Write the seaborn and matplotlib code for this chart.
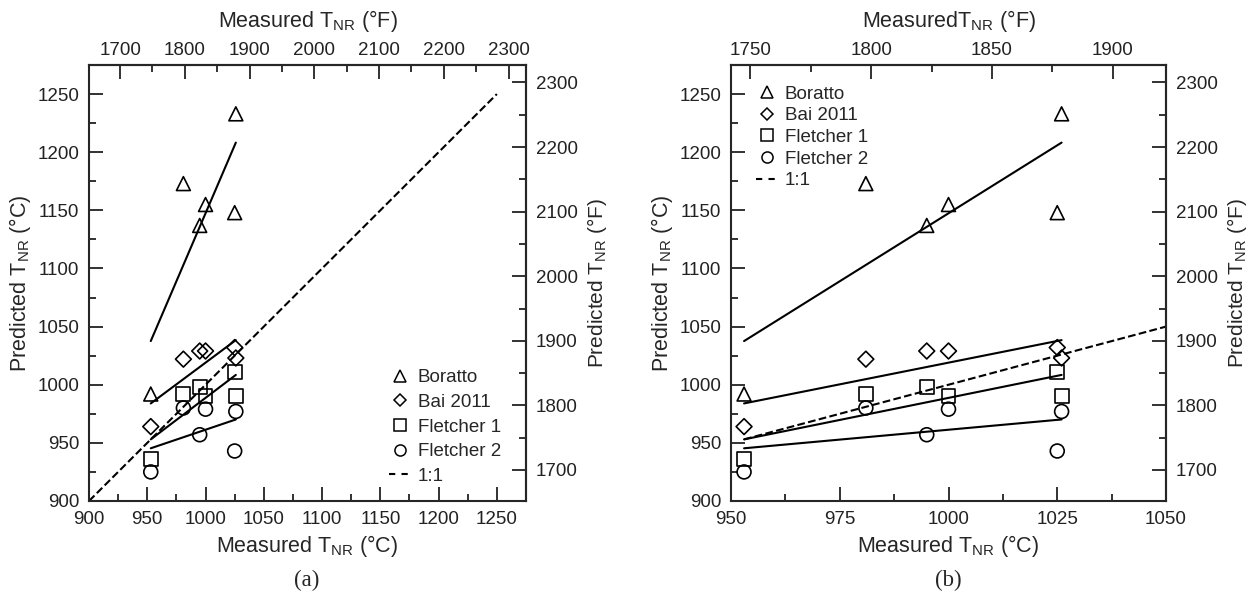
import pandas as pd
import matplotlib
matplotlib.use('Agg')
import matplotlib.pyplot as plt
from matplotlib.lines import Line2D
from matplotlib.ticker import MultipleLocator, FixedLocator
import seaborn as sns

# Datos (°C)
medido = [953, 981, 995, 1000, 1025, 1026]
boratto = [992, 1173, 1137, 1155, 1148, 1233]
bai2011 = [964, 1022, 1029, 1029, 1032, 1023]
fletcher1 = [936, 992, 998, 990, 1011, 990]
fletcher2 = [925, 980, 957, 979, 943, 977]

modelos = ['Boratto', 'Bai 2011', 'Fletcher 1', 'Fletcher 2']
marcadores = ['^', 'D', 's', 'o']

# Recta 1:1 en cada panel
linea_a = [900, 1250]
linea_b = [953, 1250]

# Marcas de los ejes en °F
ticks_f_arriba_a = [1700, 1800, 1900, 2000, 2100, 2200, 2300]
ticks_f_arriba_b = [1750, 1800, 1850, 1900]
ticks_f_derecha = [1700, 1800, 1900, 2000, 2100, 2200, 2300]

# Tabla larga para seaborn
df = pd.DataFrame({
    'Medido': medido * 4,
    'Predicho': boratto + bai2011 + fletcher1 + fletcher2,
    'Modelo': [m for m in modelos for _ in medido],
})

sns.set_style('ticks')
plt.rcParams['font.family'] = ['Liberation Sans', 'DejaVu Sans']
plt.rcParams['mathtext.default'] = 'regular'
plt.rcParams['axes.linewidth'] = 1.5

c2f = lambda c: c * 9 / 5 + 32
f2c = lambda f: (f - 32) * 5 / 9

fig = plt.figure(figsize=(12.49, 5.97), dpi=100)
ax_a = fig.add_axes([89 / 1249, 1 - 501 / 597, 437 / 1249, 436 / 597])
ax_b = fig.add_axes([731 / 1249, 1 - 501 / 597, 435 / 1249, 436 / 597])

TAM = 13.5


def marcas(eje, pad=7):
    eje.tick_params(which='both', direction='in', width=1.3, labelsize=TAM,
                    colors='#222222', pad=pad)
    eje.tick_params(which='major', length=10)
    eje.tick_params(which='minor', length=5)


def dibujar(ax, linea, xlim, xmaj, xmin, fticks, fmin, titulo_f, leg_loc, leg_anchor, espacio):
    # rectas de regresion
    for nombre in modelos:
        sub = df[df['Modelo'] == nombre]
        sns.regplot(data=sub, x='Medido', y='Predicho', ax=ax, scatter=False, ci=None,
                    truncate=True, line_kws=dict(color='black', lw=1.5))
    # puntos
    for nombre, mk in zip(modelos, marcadores):
        sub = df[df['Modelo'] == nombre]
        sns.scatterplot(data=sub, x='Medido', y='Predicho', ax=ax, marker=mk,
                        s=100 if mk != 'D' else 65, facecolor='none', edgecolor='black',
                        linewidth=1.2, legend=False, zorder=3)
    sns.lineplot(x=linea, y=linea, ax=ax, color='black', lw=1.5, dashes=(4, 3),
                 linestyle='--', legend=False)

    ax.set_xlim(*xlim)
    ax.set_ylim(900, 1275)
    ax.xaxis.set_major_locator(MultipleLocator(xmaj))
    ax.xaxis.set_minor_locator(MultipleLocator(xmin))
    ax.yaxis.set_major_locator(MultipleLocator(50))
    ax.yaxis.set_minor_locator(MultipleLocator(25))
    marcas(ax)
    ax.tick_params(which='both', top=False, right=False)
    ax.set_xlabel(r'Measured T$_{NR}$ (°C)', fontsize=15.5, labelpad=4)
    ax.set_ylabel(r'Predicted T$_{NR}$ (°C)', fontsize=15.5, labelpad=3)

    # ejes secundarios en °F
    arriba = ax.secondary_xaxis('top', functions=(c2f, f2c))
    arriba.xaxis.set_major_locator(FixedLocator(fticks))
    arriba.xaxis.set_minor_locator(MultipleLocator(fmin))
    marcas(arriba, pad=4)
    arriba.set_xlabel(titulo_f, fontsize=15.5, labelpad=11)

    derecha = ax.secondary_yaxis('right', functions=(c2f, f2c))
    derecha.yaxis.set_major_locator(FixedLocator(ticks_f_derecha))
    derecha.yaxis.set_minor_locator(MultipleLocator(50))
    marcas(derecha)
    derecha.set_ylabel(r'Predicted T$_{NR}$ (°F)', fontsize=15, labelpad=5)

    # leyenda
    handles = [Line2D([], [], marker=mk, ls='none', mfc='none', mec='black', mew=1.1,
                      ms=8 if mk != 'D' else 6.5) for mk in marcadores]
    handles.append(Line2D([], [], color='black', ls='--', dashes=(3, 3), lw=1.5))
    ax.legend(handles, modelos + ['1:1'], loc=leg_loc, bbox_to_anchor=leg_anchor,
              frameon=False, fontsize=TAM, handlelength=1.2, handletextpad=0.35,
              labelspacing=espacio, borderaxespad=0)


dibujar(ax_a, linea_a, (900, 1275), 50, 25, ticks_f_arriba_a, 50, r'Measured T$_{NR}$ (°F)',
        'lower right', (0.96, 0.02), 0.4)
dibujar(ax_b, linea_b, (950, 1050), 25, 12.5, ticks_f_arriba_b, 25, r'MeasuredT$_{NR}$ (°F)',
        'upper left', (0.04, 0.97), 0.24)

fig.text(307 / 1249, 1 - 580 / 597, '(a)', ha='center', va='center', fontsize=16.5,
         family='Liberation Serif')
fig.text(948 / 1249, 1 - 580 / 597, '(b)', ha='center', va='center', fontsize=16.5,
         family='Liberation Serif')

plt.savefig('out.png', dpi=100)
